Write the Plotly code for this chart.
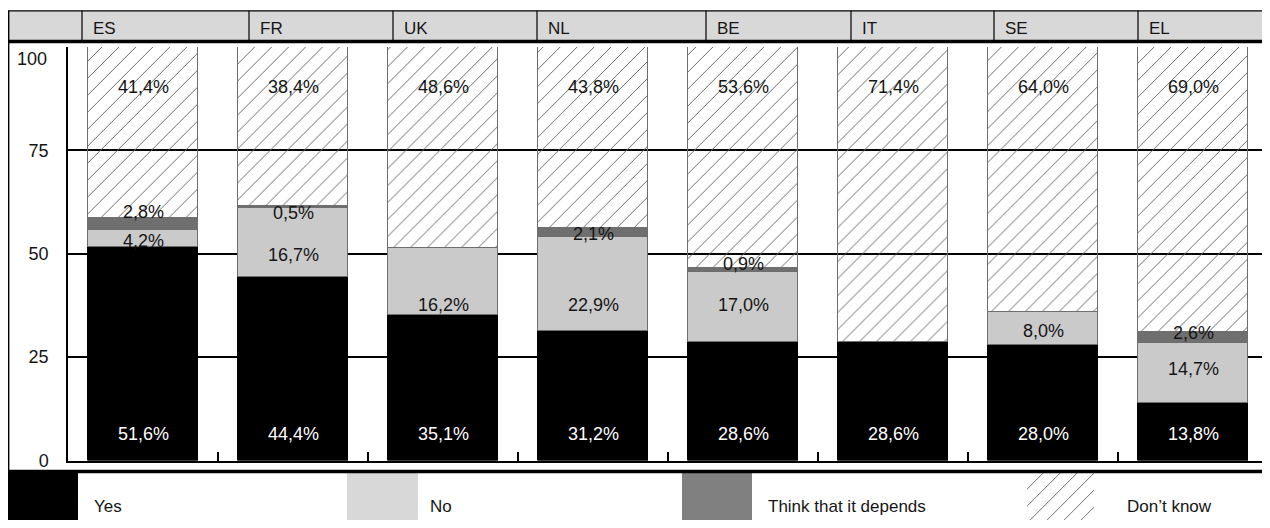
import plotly.graph_objects as go

# ---------------- data ----------------
countries = ["ES", "FR", "UK", "NL", "BE", "IT", "SE", "EL"]
yes = [51.6, 44.4, 35.1, 31.2, 28.6, 28.6, 28.0, 13.8]
no = [4.2, 16.7, 16.2, 22.9, 17.0, 0.0, 8.0, 14.7]
depends = [2.8, 0.5, 0.0, 2.1, 0.9, 0.0, 0.0, 2.6]
dont_know = [41.4, 38.4, 48.6, 43.8, 53.6, 71.4, 64.0, 69.0]
series_names = ["Yes", "No", "Think that it depends", "Don\u2019t know"]
y_tick_values = [0, 25, 50, 75, 100]
y_tick_labels = ["0", "25", "50", "75", "100"]
title_text = "73  Knowledge of the right to HIV screening, by country (%)"

# ---------------- layout helpers (page pixels -> paper) ----------------
# the page body adds an 8px margin, so the figure starts at page (8, 8)
OFF = 8
W, H = 1270 - OFF, 528 - 2 * OFF
def px(x):
    return (x - OFF) / W
def py(y):
    return 1 - (y - OFF) / H

FONT = "Liberation Sans, Arial, sans-serif"
TXT = "#151515"
C_YES, C_NO, C_DEP = "#000000", "#cacaca", "#6f6f6f"
HATCH = dict(shape="/", size=12, solidity=0.08, fgcolor="#666666", fillmode="replace")
EDGE = dict(color="#6e6e6e", width=1.5)
LBL = 18

# label vertical placement (layout, in value units)
yes_label_y = 6.5
dk_label_y = 90.3
no_label_y = [53.1, 49.8, 37.7, 37.7, 37.7, None, 31.4, 22.2]
dep_label_y = [60.0, 59.8, None, 54.8, 47.6, None, None, 30.9]

def nz(vals):
    return [v if v else None for v in vals]

BAR_W = 0.735
fig = go.Figure()
fig.add_trace(go.Bar(x=countries, y=yes, name=series_names[0], width=BAR_W,
                     marker=dict(color=C_YES, line=dict(color="#000000", width=1))))
fig.add_trace(go.Bar(x=countries, y=nz(no), name=series_names[1], width=BAR_W,
                     marker=dict(color=C_NO, line=EDGE)))
fig.add_trace(go.Bar(x=countries, y=nz(depends), name=series_names[2], width=BAR_W,
                     marker=dict(color=C_DEP, line=EDGE)))
fig.add_trace(go.Bar(x=countries, y=dont_know, name=series_names[3], width=BAR_W,
                     marker=dict(color="#ffffff", pattern=HATCH, line=EDGE)))

def fmt(v):
    return ("%.1f%%" % v).replace(".", ",")

ann = []
for i, c in enumerate(countries):
    ann.append(dict(x=c, y=yes_label_y, text=fmt(yes[i]), showarrow=False,
                    font=dict(family=FONT, size=LBL, color="#ffffff")))
    if no[i] and no_label_y[i] is not None:
        ann.append(dict(x=c, y=no_label_y[i], text=fmt(no[i]), showarrow=False,
                        font=dict(family=FONT, size=LBL, color=TXT)))
    if depends[i] and dep_label_y[i] is not None:
        ann.append(dict(x=c, y=dep_label_y[i], text=fmt(depends[i]), showarrow=False,
                        font=dict(family=FONT, size=LBL, color=TXT)))
    ann.append(dict(x=c, y=dk_label_y, text=fmt(dont_know[i]), showarrow=False,
                    font=dict(family=FONT, size=LBL, color=TXT)))

# "100" label sits lower than its gridline in the original
ann.append(dict(xref="paper", yref="y", x=px(49), y=97.2, xanchor="right",
                text=y_tick_labels[-1], showarrow=False,
                font=dict(family=FONT, size=18, color=TXT)))

# title (cut off at the top of the picture, as in the original)
ann.append(dict(xref="paper", yref="paper", x=px(OFF), y=py(7.5), xanchor="left",
                yanchor="bottom", text="<b>%s</b>" % title_text, showarrow=False,
                font=dict(family=FONT, size=20, color=TXT)))

# header band with country names
shapes = []
HEAD_T, HEAD_B = 10.8, 41.5
seps = [82, 249, 393, 537, 706, 851, 994, 1138]
shapes.append(dict(type="rect", xref="paper", yref="paper", x0=px(8), x1=px(1270),
                   y0=py(HEAD_B), y1=py(HEAD_T), fillcolor="#d8d8d8",
                   line=dict(width=0), layer="below"))
shapes.append(dict(type="line", xref="paper", yref="paper", x0=px(8), x1=px(1270),
                   y0=py(HEAD_T), y1=py(HEAD_T), line=dict(color="#000", width=1.2)))
shapes.append(dict(type="line", xref="paper", yref="paper", x0=px(8), x1=px(1270),
                   y0=py(HEAD_B), y1=py(HEAD_B), line=dict(color="#000", width=3.5)))
for s in seps:
    shapes.append(dict(type="line", xref="paper", yref="paper", x0=px(s), x1=px(s),
                       y0=py(HEAD_B), y1=py(HEAD_T), line=dict(color="#000", width=1.2)))
for s, c in zip(seps, countries):
    ann.append(dict(xref="paper", yref="paper", x=px(s + 9), y=py(28.5), xanchor="left",
                    yanchor="middle", text=c, showarrow=False,
                    font=dict(family=FONT, size=17, color=TXT)))
# outer frame: left line and bottom thick line
shapes.append(dict(type="line", xref="paper", yref="paper", x0=px(8.7), x1=px(8.7),
                   y0=py(472), y1=py(HEAD_T), line=dict(color="#000", width=1.4)))
shapes.append(dict(type="line", xref="paper", yref="paper", x0=px(8), x1=px(1270),
                   y0=py(471.5), y1=py(471.5), line=dict(color="#000", width=3.5)))

# legend strip (swatches drawn as bars on a hidden pixel axis)
leg_x0 = [8, 347, 682, 1027]
leg_x1 = [78, 418, 752, 1094]
leg_text_x = [92, 428, 766, 1125]
leg_colors = [C_YES, "#d8d8d8", "#808080", "#ffffff"]
for k in range(4):
    mk = dict(color=leg_colors[k], line=dict(width=0))
    if k == 3:
        mk = dict(color="#ffffff", pattern=HATCH, line=dict(width=0))
    fig.add_trace(go.Bar(x=[(leg_x0[k] + leg_x1[k]) / 2], y=[1], base=[0],
                         width=[leg_x1[k] - leg_x0[k]], marker=mk,
                         xaxis="x2", yaxis="y2", hoverinfo="skip"))
    ann.append(dict(xref="paper", yref="paper", x=px(leg_text_x[k]), y=py(506),
                    xanchor="left", yanchor="middle", text=series_names[k],
                    showarrow=False, font=dict(family=FONT, size=17, color=TXT)))

fig.update_layout(
    width=W, height=H,
    margin=dict(l=0, r=0, t=0, b=0, autoexpand=False),
    paper_bgcolor="#ffffff", plot_bgcolor="rgba(0,0,0,0)",
    barmode="stack", bargap=0, showlegend=False,
    font=dict(family=FONT, size=18, color=TXT),
    annotations=ann, shapes=shapes,
    xaxis=dict(domain=[px(68), px(1268)], range=[-0.5, 7.5], showticklabels=False,
               ticks="inside", tickson="boundaries", ticklen=9, tickwidth=2,
               tickcolor="#000", showline=True, linecolor="#000", linewidth=2,
               showgrid=False, zeroline=False, fixedrange=True, automargin=False),
    yaxis=dict(domain=[py(460.5), py(47)], range=[0, 100],
               tickvals=y_tick_values, ticktext=y_tick_labels[:-1] + [""],
               showgrid=True, gridcolor="#000", gridwidth=2,
               showline=True, linecolor="#000", linewidth=1.5,
               ticks="", ticklabelstandoff=14, zeroline=False, automargin=False,
               tickfont=dict(family=FONT, size=18, color=TXT), fixedrange=True),
    xaxis2=dict(domain=[0, 1], range=[OFF, 1270], visible=False, anchor="y2", fixedrange=True),
    yaxis2=dict(domain=[0, py(473)], range=[0, 1], visible=False, anchor="x2", fixedrange=True),
)

fig.write_html("out.html")
